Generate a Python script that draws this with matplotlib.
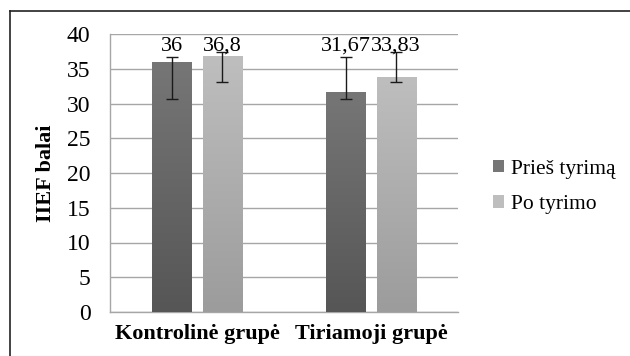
import matplotlib
matplotlib.use('Agg')
import matplotlib.pyplot as plt
import numpy as np
from matplotlib.lines import Line2D
from matplotlib.colors import LinearSegmentedColormap

plt.rcParams['font.family'] = ['Liberation Serif', 'DejaVu Serif']

# Data
groups = ['Kontrolinė grupė', 'Tiriamoji grupė']
series = ['Prieš tyrimą', 'Po tyrimo']
before = [36, 31.67]
after = [36.8, 33.83]
labels_before = ['36', '31,67']
labels_after = ['36,8', '33,83']
# error bar ends
before_low = [30.7, 30.7]
before_high = [36.7, 36.7]
after_low = [33.1, 33.1]
after_high = [37.4, 37.4]

colors = {
    'before': ('#767676', '#565656'),
    'after': ('#bebebe', '#9c9c9c'),
}

fig = plt.figure(figsize=(6.30, 3.56), dpi=100)
ax = fig.add_axes([110 / 630, 1 - 312 / 356, 348 / 630, 278 / 356])

x = np.arange(len(groups))
width = 0.225
offset = 0.145

bars_b = ax.bar(x - offset, before, width, color=colors['before'][0], label=series[0], zorder=3)
bars_a = ax.bar(x + offset, after, width, color=colors['after'][0], label=series[1], zorder=3)

# vertical gradient in each bar
for bars, key in [(bars_b, 'before'), (bars_a, 'after')]:
    cmap = LinearSegmentedColormap.from_list(key, [colors[key][1], colors[key][0]])
    for bar in bars:
        x0 = bar.get_x()
        h = bar.get_height()
        grad = np.linspace(0, 1, 100).reshape(-1, 1)
        im = ax.imshow(grad, cmap=cmap, origin='lower', aspect='auto',
                       extent=[x0, x0 + bar.get_width(), 0, h], zorder=3.5)
        im.set_clip_path(bar)

# error bars
for xs, vals, lo, hi in [(x - offset, before, before_low, before_high),
                         (x + offset, after, after_low, after_high)]:
    yerr = [np.array(vals) - np.array(lo), np.array(hi) - np.array(vals)]
    ax.errorbar(xs, vals, yerr=yerr, fmt='none', ecolor='#1a1a1a',
                elinewidth=1, capsize=4, capthick=1, zorder=5)

# value labels
for xs, labs in [(x - offset, labels_before), (x + offset, labels_after)]:
    for xp, lab in zip(xs, labs):
        ax.text(xp, 36.9, lab, ha='center', va='bottom', fontsize=16, zorder=6)

ax.set_xlim(-0.5, 1.5)
ax.set_ylim(0, 40)
ax.set_yticks(range(0, 41, 5))
ax.set_xticks(x)
ax.set_xticklabels(groups, fontsize=16, fontweight='bold')
ax.tick_params(axis='y', labelsize=17, length=0, pad=14)
ax.tick_params(axis='x', length=0, pad=9)
ax.grid(True, axis='y', color='#a6a6a6', linewidth=1, zorder=0)
ax.set_axisbelow(True)
for s in ['top', 'right']:
    ax.spines[s].set_visible(False)
for s in ['left', 'bottom']:
    ax.spines[s].set_color('#a6a6a6')
    ax.spines[s].set_linewidth(1)
ax.set_ylabel('IIEF balai', fontsize=16, fontweight='bold', labelpad=8)

ax.legend(loc='center left', bbox_to_anchor=(474 / 630, 1 - 187 / 356),
          bbox_transform=fig.transFigure, frameon=False, fontsize=15.5,
          handlelength=0.5, handleheight=0.5, handletextpad=0.3,
          labelspacing=0.75)

# outer frame
fig.add_artist(Line2D([10 / 630, 10 / 630], [0, 1 - 11 / 356], color='#222222', linewidth=1.2))
fig.add_artist(Line2D([10 / 630, 1], [1 - 11 / 356, 1 - 11 / 356], color='#222222', linewidth=1.2))

fig.savefig('out.png', dpi=100)
